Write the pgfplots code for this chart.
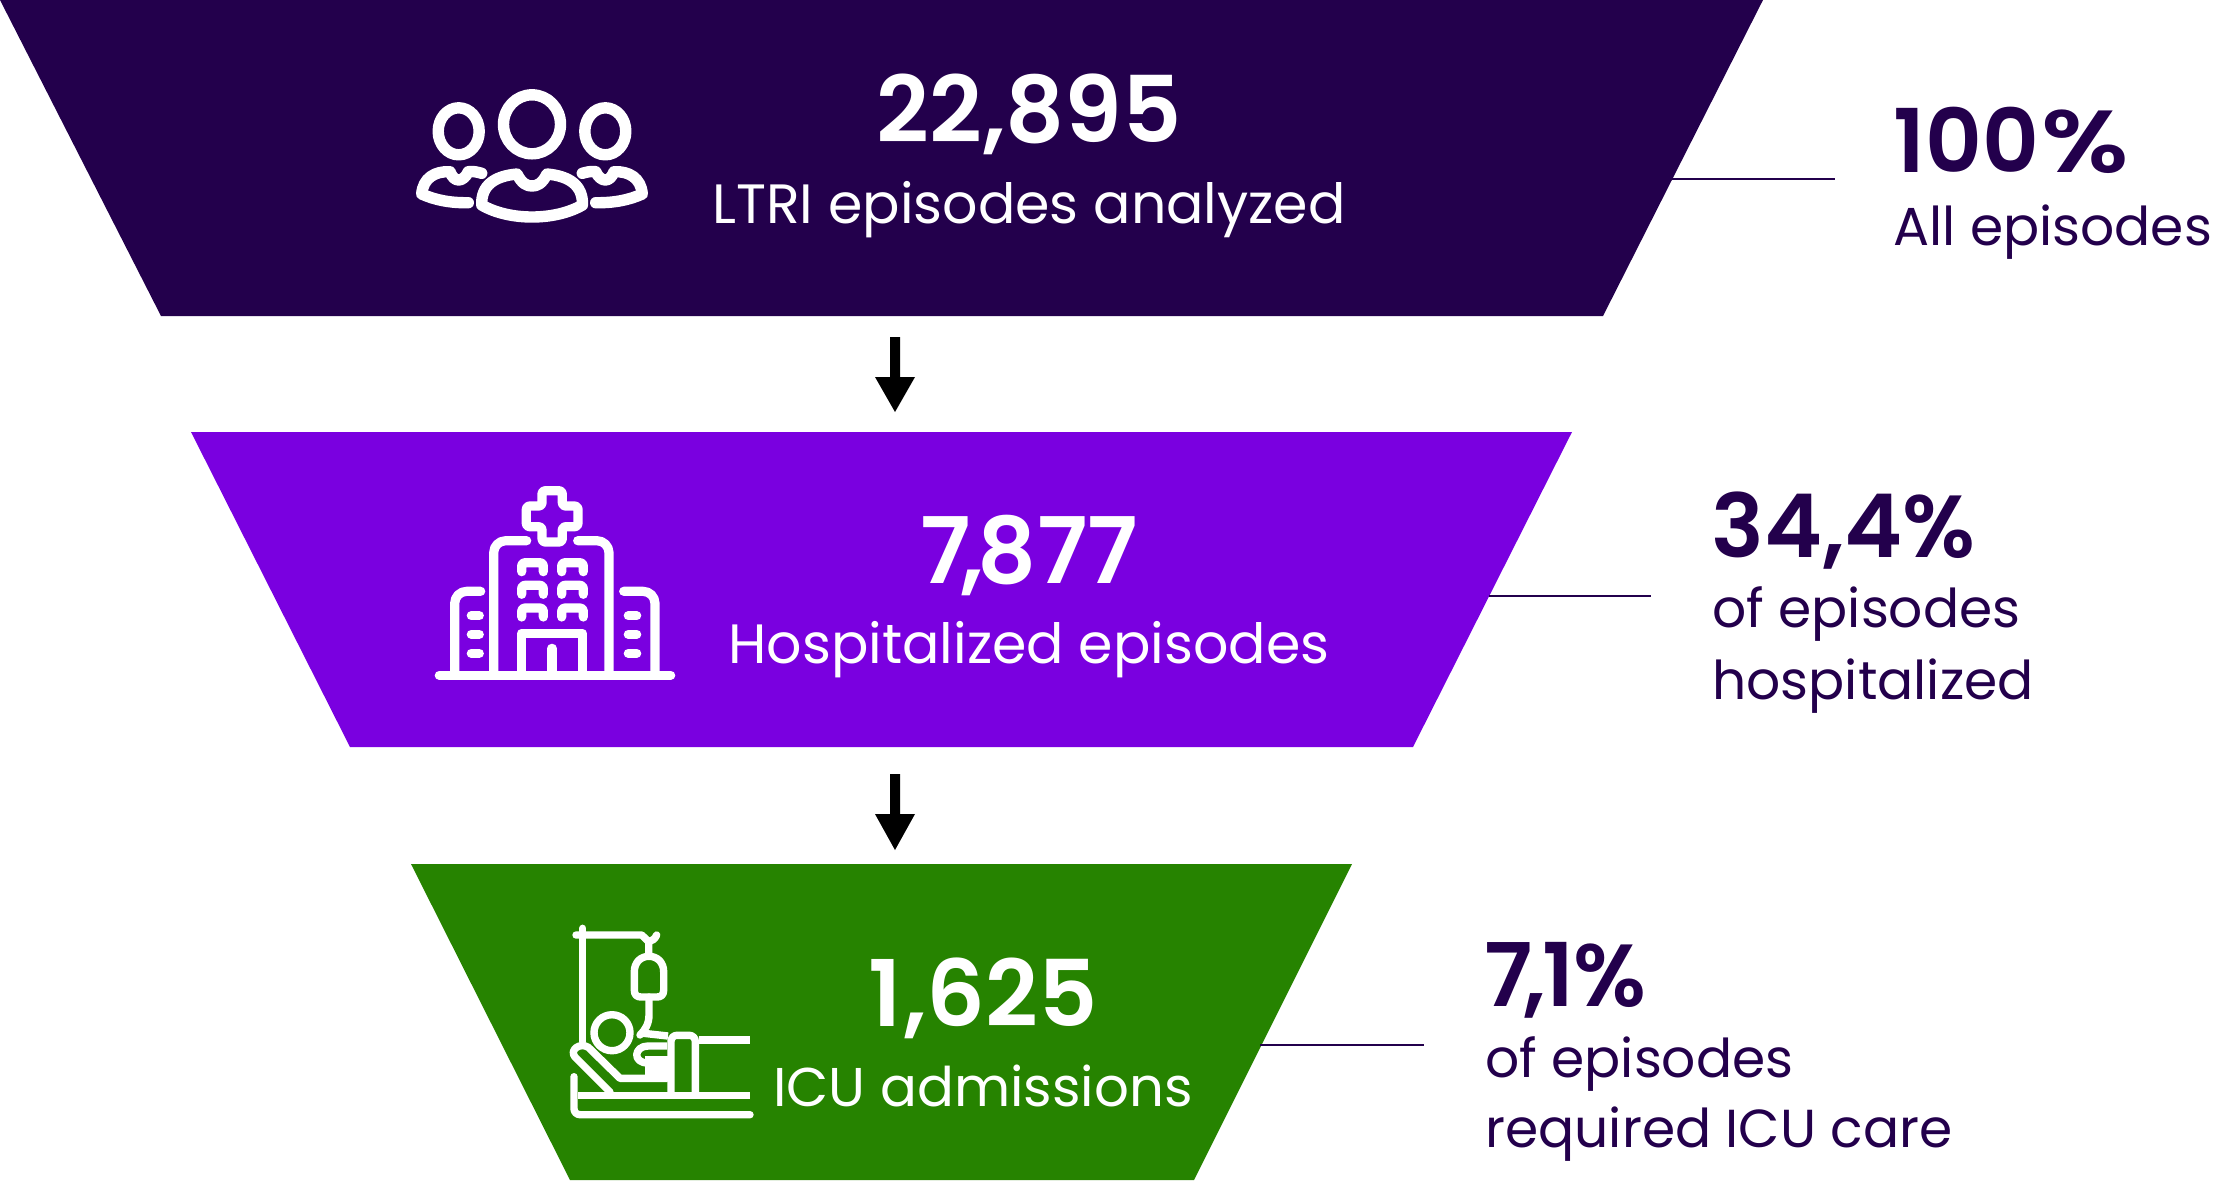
\documentclass[border=0pt]{standalone}
\usepackage{pgfplots}
\pgfplotsset{compat=1.18}
\usepackage{fontspec}
\setmainfont{Poppins}
\newfontfamily\numf{Poppins SemiBold}
\definecolor{dk}{HTML}{23004C}
\definecolor{pu}{HTML}{7A00E0}
\definecolor{gr}{HTML}{268300}
\newcommand{\bignum}[3]{\node[anchor=base,inner sep=0pt,text=white,font=\fontsize{46}{46}\selectfont\numf] at (#1,#2) {#3};}
\newcommand{\lab}[3]{\node[anchor=base,inner sep=0pt,text=white,font=\fontsize{27.7}{27.7}\selectfont] at (#1,#2) {#3};}
\newcommand{\rbig}[3]{\node[anchor=base west,inner sep=0pt,text=dk,font=\fontsize{44}{44}\selectfont\numf] at (#1,#2) {#3};}
\newcommand{\rlab}[3]{\node[anchor=base west,inner sep=0pt,text=dk,font=\fontsize{26.75}{26.75}\selectfont] at (#1,#2) {#3};}
\begin{document}
\begin{tikzpicture}
\useasboundingbox (0,0) rectangle (1106.5pt,590pt);
\begin{axis}[width=1106.5pt,height=590pt,scale only axis,xmin=0,xmax=2213,ymin=0,ymax=1180,y dir=reverse,hide axis,clip=false]
% funnel
\addplot[fill=dk,draw=none] coordinates {(0,0) (1763,0) (1603,316) (161,316)} --cycle;
\addplot[fill=pu,draw=none] coordinates {(191,432) (1572,432) (1413,747) (350,747)} --cycle;
\addplot[fill=gr,draw=none] coordinates {(411,864) (1352,864) (1194,1180) (570,1180)} --cycle;
% arrows
\addplot[fill=black,draw=none] coordinates {(890,337) (900,337) (900,377) (915,377) (895,412) (875,377) (890,377)} --cycle;
\addplot[fill=black,draw=none] coordinates {(890,774) (900,774) (900,814) (915,814) (895,850) (875,814) (890,814)} --cycle;
% leader lines
\addplot[dk,line width=0.6pt] coordinates {(1672,179) (1835,179)};
\addplot[dk,line width=0.6pt] coordinates {(1489,596) (1651,596)};
\addplot[dk,line width=0.6pt] coordinates {(1260,1045) (1424,1045)};
% people icon
\begin{scope}[white,line width=5.7pt,line cap=round,line join=round]
\draw (532,124.3) ellipse [x radius=28.5,y radius=29.5];
\draw (458.7,131.3) ellipse [x radius=20.5,y radius=23.5];
\draw (605.3,131.3) ellipse [x radius=20.5,y radius=23.5];
\draw (481.7,205) .. controls (481,185) and (495,176) .. (517,174) .. controls (522,184) and (527,186) .. (532,186) .. controls (537,186) and (542,184) .. (547,174) .. controls (569,176) and (583,185) .. (582.5,205) .. controls (555,221) and (509,221) .. cycle;
\draw (481.7,173.3) .. controls (477,172) and (473,171) .. (468.3,171.7) .. controls (466,177) and (462,180) .. (458.7,180) .. controls (455,180) and (452,177) .. (450,171.7) .. controls (435,171) and (423,178) .. (421.7,194) .. controls (435,200) and (450,203) .. (468.3,202.7);
\draw (582.3,173.3) .. controls (587,172) and (591,171) .. (595.7,171.7) .. controls (598,177) and (602,180) .. (605.3,180) .. controls (609,180) and (612,177) .. (614,171.7) .. controls (629,171) and (641,178) .. (642.3,194) .. controls (629,200) and (614,203) .. (595.7,202.7);
\end{scope}
% hospital icon
\begin{scope}[white,line width=4.6pt,line cap=round,line join=round]
\draw[rounded corners=1.5pt] (542,490.7) -- (562.3,490.7) -- (562.3,506) -- (578,506) -- (578,526.7) -- (562.3,526.7) -- (562.3,542) -- (542,542) -- (542,526.7) -- (526.3,526.7) -- (526.3,506) -- (542,506) -- cycle;
\draw[rounded corners=6pt] (526.7,540.7) -- (493.7,540.7) -- (493.7,675);
\draw[rounded corners=6pt] (577.7,540.7) -- (609,540.7) -- (609,675);
\draw[rounded corners=6pt] (480.7,591.3) -- (454.7,591.3) -- (454.7,675);
\draw[rounded corners=6pt] (623.7,591.3) -- (655,591.3) -- (655,675);
\draw (439.3,675.3) -- (670.7,675.3);
\draw[rounded corners=1.5pt] (521.7,571.7) -- (521.7,562.7) -- (543.3,562.7) -- (543.3,571.7);
\draw[rounded corners=1.5pt] (561.7,571.7) -- (561.7,562.7) -- (583.3,562.7) -- (583.3,571.7);
\draw[rounded corners=1.5pt] (521.7,594.3) -- (521.7,585.3) -- (543.3,585.3) -- (543.3,594.3);
\draw[rounded corners=1.5pt] (561.7,594.3) -- (561.7,585.3) -- (583.3,585.3) -- (583.3,594.3);
\draw[rounded corners=1.5pt] (521.7,617) -- (521.7,608) -- (543.3,608) -- (543.3,617);
\draw[rounded corners=1.5pt] (561.7,617) -- (561.7,608) -- (583.3,608) -- (583.3,617);
\draw[line cap=butt] (521.7,675) -- (521.7,633.3) -- (582.3,633.3) -- (582.3,675);
\draw (552,648.3) -- (552,675);
\draw (471.3,615.7) -- (479.3,615.7) (471.3,634.3) -- (479.3,634.3) (471.3,653.3) -- (479.3,653.3);
\draw (628.3,615.7) -- (636.7,615.7) (628.3,634.3) -- (636.7,634.3) (628.3,653.3) -- (636.7,653.3);
\end{scope}
% ICU icon
\begin{scope}[white,line width=3.7pt,line cap=round,line join=round]
\draw (582.7,928.3) -- (582.7,1041.7);
\draw (576,935) -- (641.7,935) -- (648.7,941.7) -- (648.7,955);
\draw (656.7,935) .. controls (655,939) and (652,941) .. (648.7,941.7);
\draw (634.3,972) .. controls (634.3,962) and (641,956.3) .. (649,956.3) .. controls (657,956.3) and (663.7,962) .. (663.7,972) -- (663.7,990) .. controls (663.7,995) and (661,997) .. (657,997) -- (641,997) .. controls (637,997) and (634.3,995) .. (634.3,990) -- cycle;
\draw (649,997) -- (649,1015) .. controls (649,1024) and (645,1030) .. (640,1035);
\draw (612,1032.7) circle [radius=18];
\draw (666.7,1078.3) -- (620,1078.3) -- (588.3,1047.3) .. controls (580,1042) and (569,1050) .. (575,1057) -- (610,1092);
\draw[line cap=butt] (641,1033) -- (668,1036);
\draw[line cap=butt] (667,1046) -- (648,1046) .. controls (634,1046) and (632,1063) .. (648,1063) -- (667,1063);
\addplot[fill=white,draw=none] coordinates {(645,1056) (668,1056) (668,1078) (645,1078)} --cycle;
\draw[line cap=butt,rounded corners=3pt] (671,1092.7) -- (671,1035.3) -- (695.3,1035.3) -- (695.3,1092.7);
\draw[line cap=butt] (698.7,1040) -- (750,1040);
\draw[line cap=butt] (578,1095.3) -- (750,1095.3);
\draw[rounded corners=3pt] (574,1076.7) -- (574,1114.7) -- (750,1114.7);
\end{scope}
% text
\bignum{1029}{142.6}{22,895}
\lab{1029}{223}{LTRI episodes analyzed}
\bignum{1029}{583}{7\kern-5pt,\kern-3pt877}
\lab{1029}{663}{Hospitalized episodes}
\bignum{983}{1026}{1\kern1pt,625}
\lab{983}{1106}{\fontsize{27.3}{27.3}\selectfont ICU admissions}
\rbig{1893}{172}{100\kern1.5pt\scalebox{1.2}[1]{\%}}
\rlab{1893}{245}{All episodes}
\rbig{1711}{557}{34,4\%}
\rlab{1712}{627}{of episodes}
\rlab{1712}{699}{hospitalized}
\rbig{1484}{1006}{7\kern-4.5pt,\kern-2pt1\%}
\rlab{1485}{1077}{of episodes}
\rlab{1485}{1147}{required ICU care}
\end{axis}
\end{tikzpicture}
\end{document}
